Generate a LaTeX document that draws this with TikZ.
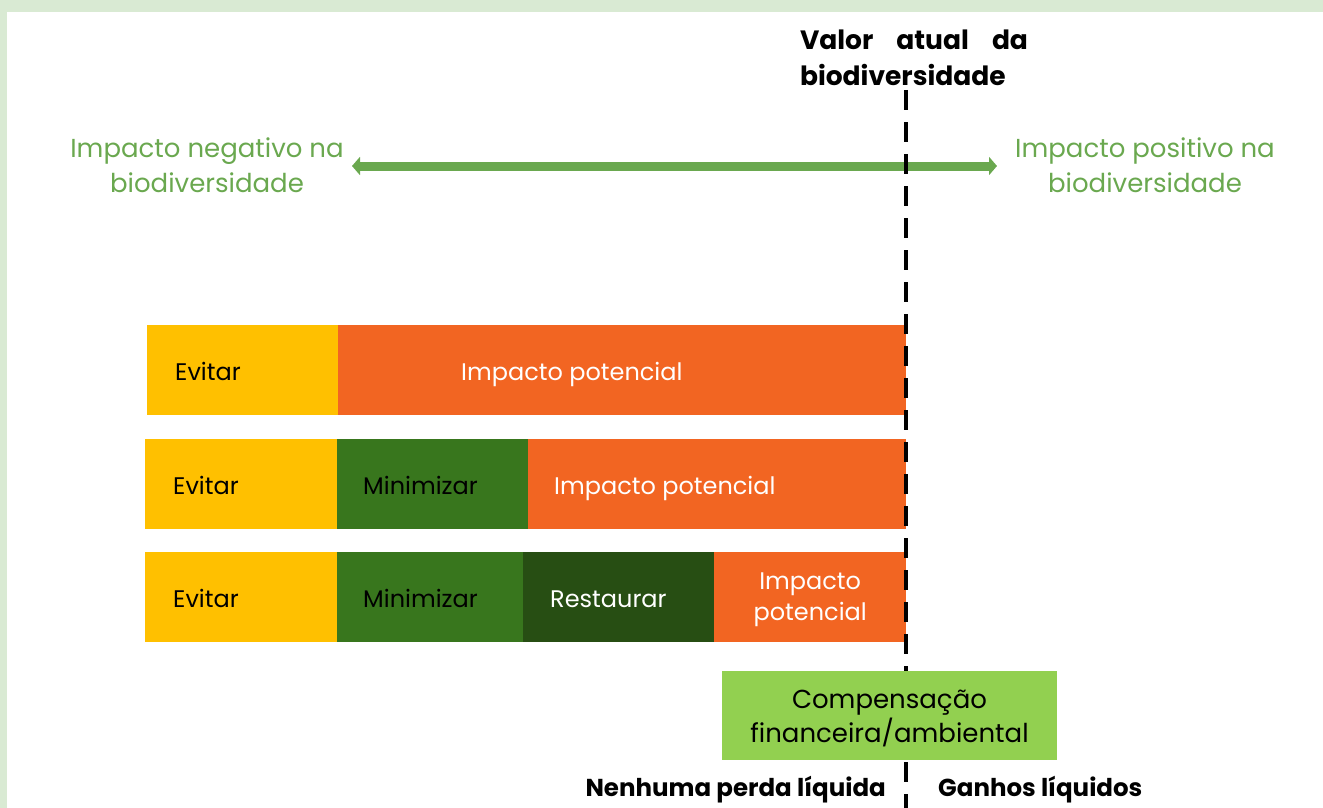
\documentclass[tikz,border=0pt]{standalone}
\usepackage{fontspec}
\setmainfont{Poppins}
\usetikzlibrary{arrows.meta}
\definecolor{frame}{HTML}{D9EAD3}
\definecolor{txtgreen}{HTML}{6AA84F}
\definecolor{cyellow}{HTML}{FFC000}
\definecolor{corange}{HTML}{F26522}
\definecolor{cdgreen}{HTML}{38761D}
\definecolor{cddgreen}{HTML}{274E13}
\definecolor{clgreen}{HTML}{92D050}
\begin{document}
\begin{tikzpicture}[x=1pt,y=-1pt,
  bar/.style={draw=none,rectangle,anchor=north west,inner sep=0pt,minimum height=90pt},
  bartext/.style={anchor=west,inner sep=0pt,yshift=-4pt,text height=17pt,text depth=5pt,font=\fontsize{24}{29}\selectfont},
  greentext/.style={align=center,text=txtgreen,font=\fontsize{26}{35}\selectfont},
  boldtext/.style={font=\bfseries\fontsize{24.5}{36}\selectfont}]
\useasboundingbox (0,0) rectangle (1323,808);
\fill[frame] (0,0) rectangle (1323,12);
\fill[frame] (0,0) rectangle (7,808);
% title
\node[font=\bfseries\fontsize{26.5}{36}\selectfont,inner sep=0pt,align=left,text width=228pt] (title) at (914,58)
  {Valor\hfill atual\hfill da\\biodiversidade};
% side labels
\node[greentext] (neg) at (207,165) {Impacto negativo na\\biodiversidade};
\node[greentext] (pos) at (1145,165) {Impacto positivo na\\biodiversidade};
\coordinate (al) at (352,166);
\coordinate (ar) at (997,166);
\draw[txtgreen,line width=9pt,{Triangle[width=18pt,length=8pt]}-{Triangle[width=18pt,length=8pt]}] (al) -- (ar);
% row 1
\node[bar,fill=cyellow,minimum width=191pt] (e1) at (147,325) {};
\node[bar,fill=corange,minimum width=568pt] (i1) at (338,325) {};
\node[bartext] at ([xshift=28pt]e1.west) {Evitar};
\node[bartext,text=white] at ([xshift=123pt]i1.west) {Impacto potencial};
% row 2
\node[bar,fill=cyellow,minimum width=192pt] (e2) at (145,439) {};
\node[bar,fill=cdgreen,minimum width=191pt] (m2) at (337,439) {};
\node[bar,fill=corange,minimum width=378pt] (i2) at (528,439) {};
\node[bartext] at ([xshift=28pt]e2.west) {Evitar};
\node[bartext] at ([xshift=26pt]m2.west) {Minimizar};
\node[bartext,text=white] at ([xshift=26pt]i2.west) {Impacto potencial};
% row 3
\node[bar,fill=cyellow,minimum width=192pt] (e3) at (145,552) {};
\node[bar,fill=cdgreen,minimum width=186pt] (m3) at (337,552) {};
\node[bar,fill=cddgreen,minimum width=191pt] (r3) at (523,552) {};
\node[bar,fill=corange,minimum width=192pt] (i3) at (714,552) {};
\node[bartext] at ([xshift=28pt]e3.west) {Evitar};
\node[bartext] at ([xshift=26pt]m3.west) {Minimizar};
\node[bartext,text=white] at ([xshift=27pt]r3.west) {Restaurar};
\node[align=center,text=white,font=\fontsize{24}{31}\selectfont] (i3text) at ([yshift=-3pt]i3.center) {Impacto\\potencial};
% dashed line
\coordinate (dtop) at (906,90);
\coordinate (dbot) at (906,808);
\draw[line width=3.5pt,dash pattern=on 20pt off 12pt] (dtop) -- (dbot);
% compensation
\node[rectangle,fill=clgreen,minimum width=335pt,minimum height=89pt,inner sep=0pt] (comp) at (889.5,715.5) {};
\node[align=center,font=\fontsize{26}{34}\selectfont] (comptext) at ([yshift=-3pt]comp.center) {Compensação\\financeira/ambiental};
% bottom labels
\node[boldtext,anchor=east,inner sep=0pt] (nenhuma) at (886,790) {Nenhuma perda líquida};
\node[boldtext,anchor=west,inner sep=0pt] (ganhos) at (938,790) {Ganhos líquidos};
\end{tikzpicture}
\end{document}
